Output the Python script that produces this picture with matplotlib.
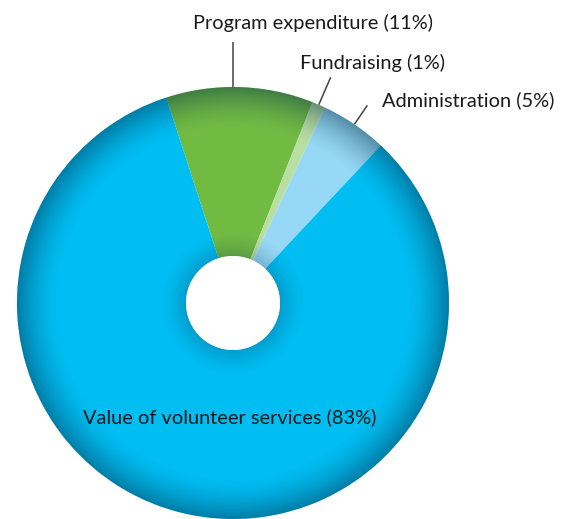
import numpy as np
import matplotlib
matplotlib.use("Agg")
import matplotlib.pyplot as plt
from matplotlib.patches import Circle

# ---- data ----
categories = ["Program expenditure", "Fundraising", "Administration", "Value of volunteer services"]
values = [11, 1, 5, 83]
colors = ["#72BB43", "#B9DEA2", "#96D8F5", "#00BDF2"]

W, H = 561, 519
fig = plt.figure(figsize=(W / 100, H / 100), dpi=100)
ax = fig.add_axes([0, 0, 1, 1])

cx, cy = 233, H - 303
R = 216
r_hole = 47
start = 108

wedges, _ = ax.pie(values, colors=colors, startangle=start, counterclock=False,
                   center=(cx, cy), radius=R,
                   wedgeprops=dict(width=R - r_hole, linewidth=0))

# radial shading (rim darkening + shadow around the hole)
yy, xx = np.mgrid[0:H, 0:W]
rr = np.hypot(xx + 0.5 - cx, (H - yy - 0.5) - cy)
rim = np.clip((rr - (R - 42)) / 42, 0, 1) ** 1.6 * 0.45
inner = np.clip(1 - (rr - r_hole) / 26, 0, 1) ** 1.5 * 0.22
alpha = np.clip(rim + inner, 0, 1)
img = np.zeros((H, W, 4))
img[..., 0] = 0.0
img[..., 1] = 0.18
img[..., 2] = 0.28
img[..., 3] = alpha
im = ax.imshow(img, extent=(0, W, 0, H), origin="upper", zorder=3, interpolation="bilinear")
clip = Circle((cx, cy), R, transform=ax.transData)
im.set_clip_path(clip)
ax.add_patch(Circle((cx, cy), r_hole, facecolor="white", edgecolor="none", zorder=4))

# leader lines and labels
font = "Lato"
tc = "#1a1a1a"
fs = 14.4
lead_len = [45, 30, 23]
angles = []
acc = start
for v in values:
    mid = acc - v * 360 / sum(values) / 2
    angles.append(mid)
    acc -= v * 360 / sum(values)

label_pos = [(193, 23, "left"), (300, 63, "left"), (382, 100, "left")]
for i in range(3):
    a = np.deg2rad(angles[i])
    if i == 0:
        x0 = cx + R * np.cos(a) - 7
        xs = [x0, x0]
        y0 = cy + np.sqrt(R**2 - (x0 - cx)**2)
        ys = [y0, y0 + lead_len[i]]
    else:
        xs = [cx + R * np.cos(a), cx + (R + lead_len[i]) * np.cos(a)]
        ys = [cy + R * np.sin(a), cy + (R + lead_len[i]) * np.sin(a)]
    ax.plot(xs, ys, color="#444444", lw=1.1, zorder=5, solid_capstyle="butt")
    lx, ly, ha = label_pos[i]
    ax.text(lx, H - ly, f"{categories[i]} ({values[i]}%)", ha=ha, va="center",
            fontsize=fs, family=font, color=tc, zorder=6)

ax.text(83, H - 417, f"{categories[3]} ({values[3]}%)", ha="left", va="center",
        fontsize=fs, family=font, color=tc, zorder=6)

ax.set_xlim(0, W)
ax.set_ylim(0, H)
ax.set_aspect("equal")
ax.axis("off")
fig.savefig("out.png", dpi=100)
